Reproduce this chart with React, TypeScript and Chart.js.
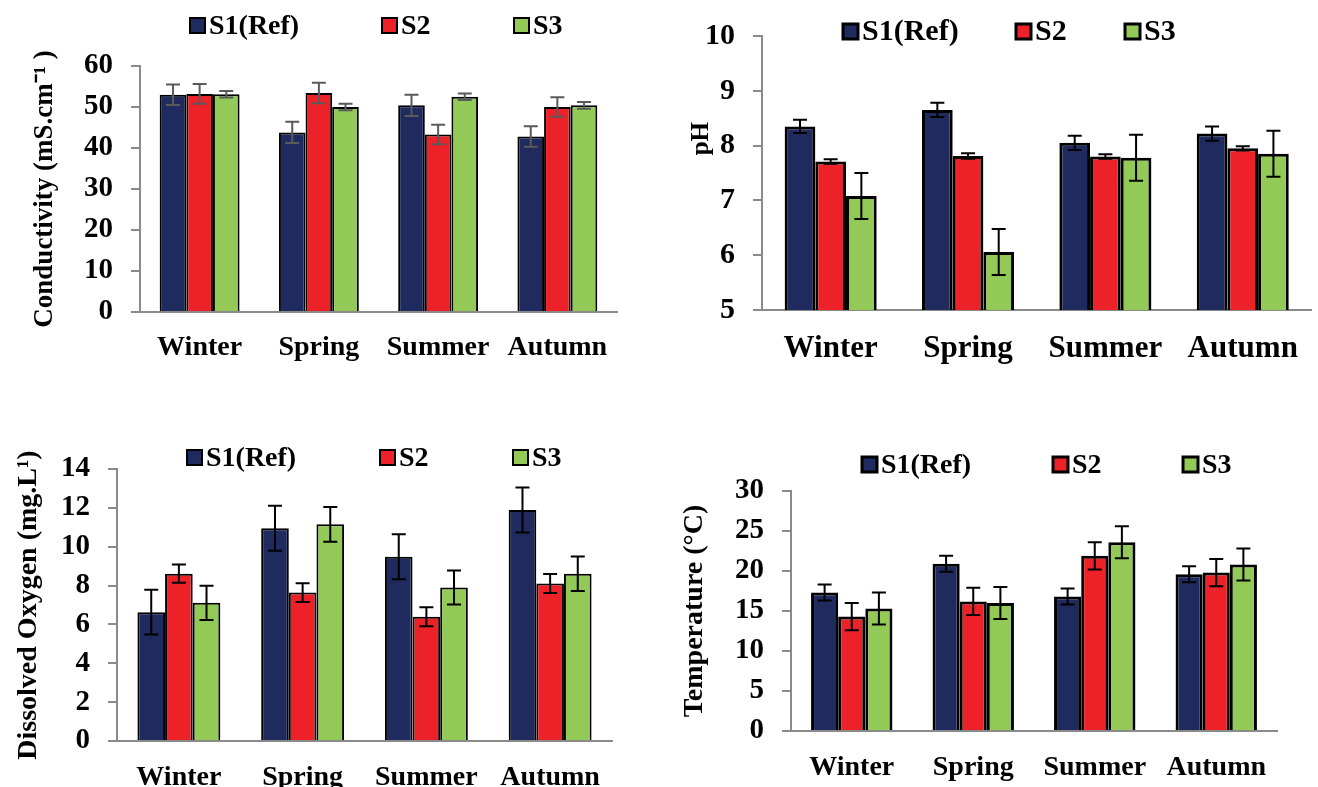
import React, { useEffect, useRef } from 'react';
import { Chart, registerables } from 'chart.js';

Chart.register(...registerables);

// ---------- data ----------
const seasons = ['Winter', 'Spring', 'Summer', 'Autumn'];
const sites = ['S1(Ref)', 'S2', 'S3'];
const siteColors = ['#1F2A5E', '#ED2128', '#93C957'];

const condS1 = [53.0, 43.8, 50.4, 42.8];
const condS2 = [53.2, 53.4, 43.3, 50.0];
const condS3 = [53.1, 50.0, 52.5, 50.4];
const condErrS1 = [2.5, 2.6, 2.6, 2.5];
const condErrS2 = [2.4, 2.5, 2.4, 2.4];
const condErrS3 = [0.8, 0.8, 0.8, 0.8];

const phS1 = [8.35, 8.65, 8.05, 8.22];
const phS2 = [7.71, 7.81, 7.8, 7.95];
const phS3 = [7.08, 6.06, 7.78, 7.85];
const phErrS1 = [0.12, 0.13, 0.13, 0.13];
const phErrS2 = [0.04, 0.05, 0.04, 0.04];
const phErrS3 = [0.42, 0.42, 0.42, 0.42];

const doS1 = [6.63, 10.95, 9.48, 11.89];
const doS2 = [8.61, 7.64, 6.39, 8.11];
const doS3 = [7.11, 11.15, 7.9, 8.61];
const doErrS1 = [1.15, 1.16, 1.16, 1.16];
const doErrS2 = [0.47, 0.48, 0.49, 0.49];
const doErrS3 = [0.88, 0.89, 0.87, 0.89];

const tempS1 = [17.3, 20.9, 16.8, 19.6];
const tempS2 = [14.3, 16.2, 21.9, 19.8];
const tempS3 = [15.3, 16.0, 23.6, 20.8];
const tempErrS1 = [1.0, 1.0, 1.0, 1.0];
const tempErrS2 = [1.7, 1.7, 1.7, 1.7];
const tempErrS3 = [2.0, 2.0, 2.0, 2.0];

const FONT = '"Liberation Serif", "Times New Roman", serif';

// ---------- plugins ----------
const errorBarPlugin = {
  id: 'errorBars',
  afterDatasetsDraw(chart: any, _args: any, opts: any) {
    const errs = opts.errors;
    if (!errs) return;
    const yScale = chart.scales.y;
    const ctx = chart.ctx;
    const cap = opts.cap ?? 7;
    ctx.save();
    ctx.strokeStyle = opts.color;
    ctx.lineWidth = opts.lineWidth ?? 2;
    chart.data.datasets.forEach((ds: any, i: number) => {
      const meta = chart.getDatasetMeta(i);
      meta.data.forEach((el: any, j: number) => {
        const v = ds.data[j];
        const e = errs[i][j];
        const x = el.x;
        const yt = yScale.getPixelForValue(v + e);
        const yb = yScale.getPixelForValue(v - e);
        ctx.beginPath();
        ctx.moveTo(x, yt);
        ctx.lineTo(x, yb);
        ctx.moveTo(x - cap, yt);
        ctx.lineTo(x + cap, yt);
        ctx.moveTo(x - cap, yb);
        ctx.lineTo(x + cap, yb);
        ctx.stroke();
      });
    });
    ctx.restore();
  },
};

const boxLegendPlugin = {
  id: 'boxLegend',
  afterDraw(chart: any, _args: any, opts: any) {
    if (!opts.offsets) return;
    const ctx = chart.ctx;
    const area = chart.chartArea;
    const size = opts.size ?? 15;
    ctx.save();
    ctx.font = `bold ${opts.fontSize}px ${FONT}`;
    ctx.textBaseline = 'middle';
    ctx.textAlign = 'left';
    chart.data.datasets.forEach((ds: any, i: number) => {
      const bx = area.left + opts.offsets[i];
      const by = area.top + opts.dy;
      ctx.fillStyle = ds.backgroundColor;
      ctx.fillRect(bx, by, size, size);
      ctx.strokeStyle = '#000';
      ctx.lineWidth = opts.border ?? 2;
      ctx.strokeRect(bx, by, size, size);
      ctx.fillStyle = '#000';
      ctx.fillText(ds.label, bx + size + 4, by + size / 2 + 1);
    });
    ctx.restore();
  },
};

// ---------- panel ----------
type PanelCfg = {
  ox: number; oy: number; w: number; h: number;
  yW: number; xH: number; padR: number; padT: number;
  min: number; max: number; step: number;
  series: number[][]; errors: number[][]; errColor: string;
  yTitle: string; yTitleSize: number; yTitlePad: number;
  tickSize: number; xLabelSize: number; xLabelPad: number;
  legendOffsets: number[]; legendDy: number; legendSize: number;
  barBorder: number;
};

function Panel({ cfg }: { cfg: PanelCfg }) {
  const ref = useRef<HTMLCanvasElement | null>(null);
  useEffect(() => {
    if (!ref.current) return;
    const axisColor = '#8A8A8A';
    const chart = new Chart(ref.current, {
      type: 'bar',
      data: {
        labels: seasons,
        datasets: sites.map((s, i) => ({
          label: s,
          data: cfg.series[i],
          backgroundColor: siteColors[i],
          borderColor: '#000',
          borderWidth: cfg.barBorder,
          categoryPercentage: 0.67,
          barPercentage: 1.0,
        })),
      },
      options: {
        animation: false,
        responsive: false,
        maintainAspectRatio: false,
        layout: { padding: { left: 0, right: cfg.padR, top: cfg.padT, bottom: 0 } },
        plugins: {
          legend: { display: false },
          tooltip: { enabled: false },
          errorBars: { errors: cfg.errors, color: cfg.errColor, lineWidth: 2, cap: 7 },
          boxLegend: { offsets: cfg.legendOffsets, dy: cfg.legendDy, fontSize: cfg.legendSize, size: 15, border: cfg.barBorder },
        } as any,
        scales: {
          x: {
            grid: { display: false, drawTicks: false, tickLength: 0 },
            border: { display: true, color: axisColor, width: 2 },
            ticks: {
              color: '#000',
              padding: cfg.xLabelPad,
              maxRotation: 0,
              autoSkip: false,
              font: { family: FONT, size: cfg.xLabelSize, weight: 'bold' },
            },
            afterFit: (s: any) => { s.height = cfg.xH; },
          },
          y: {
            min: cfg.min,
            max: cfg.max,
            grid: { display: true, drawOnChartArea: false, drawTicks: true, tickLength: 9, color: axisColor, lineWidth: 2 },
            border: { display: true, color: axisColor, width: 2 },
            ticks: {
              stepSize: cfg.step,
              color: '#000',
              padding: 18,
              font: { family: FONT, size: cfg.tickSize, weight: 'bold' },
            },
            title: {
              display: true,
              text: cfg.yTitle,
              color: '#000',
              padding: { top: cfg.yTitlePad, bottom: 0 },
              font: { family: FONT, size: cfg.yTitleSize, weight: 'bold' },
            },
            afterFit: (s: any) => { s.width = cfg.yW; },
          },
        },
      } as any,
      plugins: [errorBarPlugin, boxLegendPlugin],
    });
    return () => chart.destroy();
  }, [cfg]);
  return (
    <canvas
      ref={ref}
      width={cfg.w}
      height={cfg.h}
      style={{ position: 'absolute', left: cfg.ox, top: cfg.oy, width: cfg.w, height: cfg.h }}
    />
  );
}

const panels: PanelCfg[] = [
  {
    ox: 0, oy: 0, w: 659, h: 393,
    yW: 140, xH: 81, padR: 42, padT: 66,
    min: 0, max: 60, step: 10,
    series: [condS1, condS2, condS3], errors: [condErrS1, condErrS2, condErrS3], errColor: '#5A5A5A',
    yTitle: 'Conductivity (mS.cm⁻¹ )', yTitleSize: 27, yTitlePad: 29,
    tickSize: 29, xLabelSize: 28, xLabelPad: 19,
    legendOffsets: [50, 242, 374], legendDy: -48, legendSize: 28, barBorder: 2,
  },
  {
    ox: 659, oy: 0, w: 659, h: 393,
    yW: 103, xH: 83, padR: 1, padT: 32,
    min: 5, max: 10, step: 1,
    series: [phS1, phS2, phS3], errors: [phErrS1, phErrS2, phErrS3], errColor: '#000',
    yTitle: '           pH', yTitleSize: 25, yTitlePad: 28,
    tickSize: 30, xLabelSize: 31, xLabelPad: 20,
    legendOffsets: [81, 254, 363], legendDy: -12, legendSize: 30, barBorder: 3,
  },
  {
    ox: 0, oy: 393, w: 659, h: 394,
    yW: 117, xH: 46, padR: 47, padT: 76,
    min: 0, max: 14, step: 2,
    series: [doS1, doS2, doS3], errors: [doErrS1, doErrS2, doErrS3], errColor: '#000',
    yTitle: 'Dissolved Oxygen (mg.L¹)', yTitleSize: 28, yTitlePad: 12,
    tickSize: 29, xLabelSize: 28, xLabelPad: 20,
    legendOffsets: [70, 263, 396], legendDy: -19, legendSize: 28, barBorder: 2,
  },
  {
    ox: 659, oy: 393, w: 659, h: 394,
    yW: 132, xH: 56, padR: 41, padT: 98,
    min: 0, max: 30, step: 5,
    series: [tempS1, tempS2, tempS3], errors: [tempErrS1, tempErrS2, tempErrS3], errColor: '#000',
    yTitle: 'Temperature (°C)', yTitleSize: 28, yTitlePad: 19,
    tickSize: 29, xLabelSize: 28, xLabelPad: 20,
    legendOffsets: [71, 262, 392], legendDy: -34, legendSize: 28, barBorder: 3,
  },
];

export default function App() {
  return (
    <div
      style={{
        position: 'absolute', left: 0, top: 0, width: 1318, height: 787,
        overflow: 'hidden', background: '#fff',
      }}
    >
      {panels.map((p, i) => (
        <Panel key={i} cfg={p} />
      ))}
    </div>
  );
}
